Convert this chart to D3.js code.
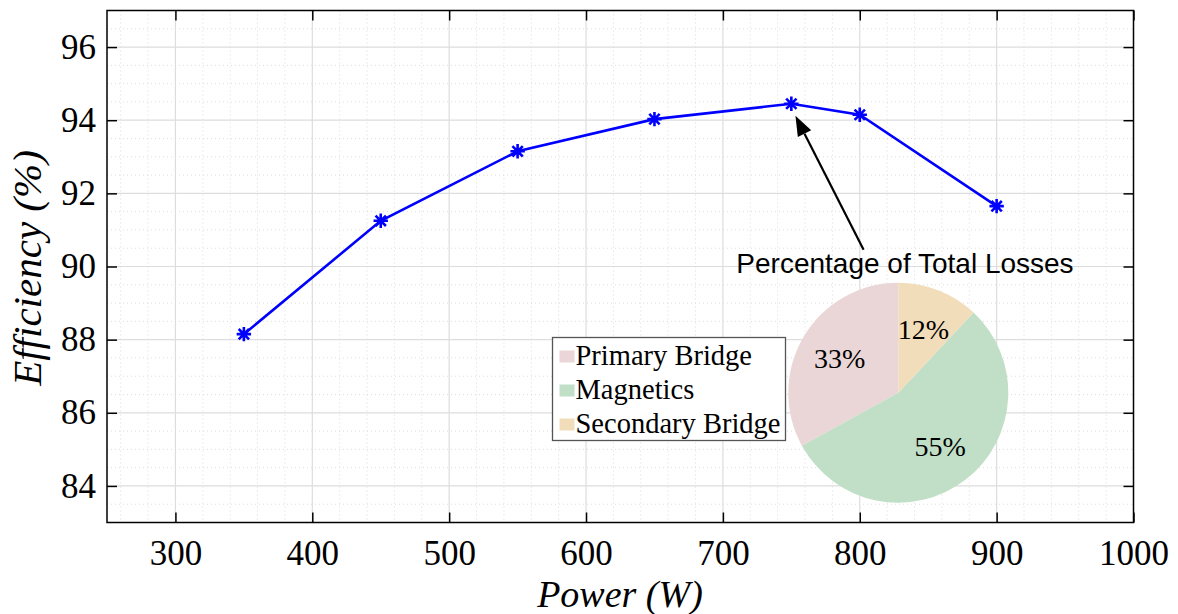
<!DOCTYPE html>
<html>
<head>
<meta charset="utf-8">
<script src="https://cdn.jsdelivr.net/npm/d3@7"></script>
<style>
  html, body { margin: 0; padding: 0; background: #fff; }
  svg { display: block; }
</style>
</head>
<body>
<svg id="chart" width="1178" height="614"></svg>
<script>
// Converter efficiency versus output power
const powerW = [350, 450, 550, 650, 750, 800, 900];
const efficiencyPct = [88.15, 91.25, 93.15, 94.03, 94.45, 94.15, 91.65];

// Tick labels
const xTicks = [300, 400, 500, 600, 700, 800, 900, 1000];
const yTicks = [84, 86, 88, 90, 92, 94, 96];

// Loss breakdown at the 750 W operating point
const lossNames = ["Primary Bridge", "Magnetics", "Secondary Bridge"];
const lossShares = [33, 55, 12];
const lossColors = ["#ead6d6", "#c1dfc7", "#f2ddbb"];

const W = 1178, H = 614;
const plot = { left: 107, right: 1133.5, top: 10.5, bottom: 522.5 };

const svg = d3.select("#chart");

const x = d3.scaleLinear().domain([250, 1000]).range([plot.left, plot.right]);
const y = d3.scaleLinear().domain([83, 97]).range([plot.bottom, plot.top]);

const serif = "'Liberation Serif', 'Times New Roman', serif";
const sans = "'Liberation Sans', Arial, sans-serif";

// Minor grid (dotted)
const minorX = d3.range(260, 1000, 20).filter(v => v % 100 !== 0);
const minorY = d3.range(83.5, 97, 0.5).filter(v => v % 2 !== 0);
const grid = svg.append("g");
grid.selectAll(".mx").data(minorX).join("line")
  .attr("x1", d => x(d)).attr("x2", d => x(d))
  .attr("y1", plot.top).attr("y2", plot.bottom)
  .attr("stroke", "#dcdcdc").attr("stroke-width", 1).attr("stroke-dasharray", "1,3");
grid.selectAll(".my").data(minorY).join("line")
  .attr("y1", d => y(d)).attr("y2", d => y(d))
  .attr("x1", plot.left).attr("x2", plot.right)
  .attr("stroke", "#dcdcdc").attr("stroke-width", 1).attr("stroke-dasharray", "1,3");

// Major grid (solid)
const majorX = d3.range(300, 1000, 100);
grid.selectAll(".Mx").data(majorX).join("line")
  .attr("x1", d => x(d)).attr("x2", d => x(d))
  .attr("y1", plot.top).attr("y2", plot.bottom)
  .attr("stroke", "#dddddd").attr("stroke-width", 1.2);
grid.selectAll(".My").data(yTicks).join("line")
  .attr("y1", d => y(d)).attr("y2", d => y(d))
  .attr("x1", plot.left).attr("x2", plot.right)
  .attr("stroke", "#dddddd").attr("stroke-width", 1.2);

// Axes on all four sides with inward ticks
function styleAxis(g) {
  g.select(".domain").remove();
  g.selectAll(".tick line").attr("stroke", "#000").attr("stroke-width", 1.5);
  g.selectAll("text").attr("font-family", serif).attr("font-size", 35).attr("fill", "#000");
}
svg.append("g").attr("transform", `translate(0,${plot.bottom})`)
  .call(d3.axisBottom(x).tickValues(xTicks).tickSize(-10).tickPadding(18).tickFormat(d3.format("d")))
  .call(styleAxis);
svg.append("g").attr("transform", `translate(0,${plot.top})`)
  .call(d3.axisTop(x).tickValues(xTicks).tickSize(-10).tickFormat(""))
  .call(styleAxis);
svg.append("g").attr("transform", `translate(${plot.left},0)`)
  .call(d3.axisLeft(y).tickValues(yTicks).tickSize(-10).tickPadding(11).tickFormat(d3.format("d")))
  .call(styleAxis);
svg.append("g").attr("transform", `translate(${plot.right},0)`)
  .call(d3.axisRight(y).tickValues(yTicks).tickSize(-10).tickFormat(""))
  .call(styleAxis);

// Plot box
svg.append("rect")
  .attr("x", plot.left).attr("y", plot.top)
  .attr("width", plot.right - plot.left).attr("height", plot.bottom - plot.top)
  .attr("fill", "none").attr("stroke", "#000").attr("stroke-width", 1.5);

// Efficiency curve
const pts = powerW.map((p, i) => [p, efficiencyPct[i]]);
svg.append("path")
  .datum(pts)
  .attr("d", d3.line().x(d => x(d[0])).y(d => y(d[1])))
  .attr("fill", "none").attr("stroke", "#0000ff").attr("stroke-width", 2.6);

// Asterisk markers
const s = 7.2, sd = s * 0.72;
const star = `M${-s},0L${s},0M0,${-s}L0,${s}M${-sd},${-sd}L${sd},${sd}M${-sd},${sd}L${sd},${-sd}`;
svg.append("g").selectAll("path").data(pts).join("path")
  .attr("transform", d => `translate(${x(d[0])},${y(d[1])})`)
  .attr("d", star)
  .attr("fill", "none").attr("stroke", "#0000ff").attr("stroke-width", 2.6);

// Annotation arrow pointing to the 750 W point
const arrowTail = [802.8, 90.46];
const arrowTip = [753, 94.12];
const tx = x(arrowTip[0]), ty = y(arrowTip[1]);
const sx = x(arrowTail[0]), sy = y(arrowTail[1]);
const ang = Math.atan2(ty - sy, tx - sx);
const headLen = 20, headHalf = 7.5;
const bx = tx - headLen * Math.cos(ang), by = ty - headLen * Math.sin(ang);
svg.append("line")
  .attr("x1", sx).attr("y1", sy).attr("x2", bx).attr("y2", by)
  .attr("stroke", "#000").attr("stroke-width", 2.2);
svg.append("path")
  .attr("d", `M${tx},${ty}L${bx - headHalf * Math.sin(ang)},${by + headHalf * Math.cos(ang)}L${bx + headHalf * Math.sin(ang)},${by - headHalf * Math.cos(ang)}Z`)
  .attr("fill", "#000");

// Pie title
svg.append("text")
  .attr("x", 905).attr("y", 273)
  .attr("text-anchor", "middle")
  .attr("font-family", sans).attr("font-size", 28)
  .attr("fill", "#000")
  .text("Percentage of Total Losses");

// Pie of loss shares, counterclockwise from the top
const pieCx = 898.3, pieCy = 392.7, pieR = 110;
const pie = d3.pie().sort(null).startAngle(0).endAngle(-2 * Math.PI);
const arcs = pie(lossShares);
const arc = d3.arc().innerRadius(0).outerRadius(pieR);
const labelArc = d3.arc().innerRadius(pieR * 0.62).outerRadius(pieR * 0.62);
const pieG = svg.append("g").attr("transform", `translate(${pieCx},${pieCy})`);
pieG.selectAll("path").data(arcs).join("path")
  .attr("d", arc)
  .attr("fill", (d, i) => lossColors[i]);
pieG.selectAll("text").data(arcs).join("text")
  .attr("transform", d => `translate(${labelArc.centroid(d)})`)
  .attr("text-anchor", "middle").attr("dy", "0.35em")
  .attr("font-family", serif).attr("font-size", 28).attr("fill", "#000")
  .text(d => d.data + "%");

// Legend
const lg = svg.append("g").attr("transform", "translate(552.5,337.5)");
lg.append("rect").attr("width", 233).attr("height", 103)
  .attr("fill", "#fff").attr("stroke", "#555").attr("stroke-width", 1.3);
const items = lg.selectAll("g").data(lossNames).join("g")
  .attr("transform", (d, i) => `translate(0,${i * 34})`);
items.append("rect")
  .attr("x", 7).attr("y", 13).attr("width", 15).attr("height", 12)
  .attr("fill", (d, i) => lossColors[i]);
items.append("text")
  .attr("x", 23).attr("y", 27)
  .attr("font-family", serif).attr("font-size", 28.5).attr("fill", "#000")
  .text(d => d);

// Axis titles
svg.append("text")
  .attr("x", 620).attr("y", 607)
  .attr("text-anchor", "middle")
  .attr("font-family", serif).attr("font-style", "italic").attr("font-size", 38)
  .attr("fill", "#000")
  .text("Power (W)");
svg.append("text")
  .attr("transform", "translate(41,268) rotate(-90)")
  .attr("text-anchor", "middle")
  .attr("font-family", serif).attr("font-style", "italic").attr("font-size", 41)
  .attr("fill", "#000")
  .text("Efficiency (%)");
</script>
</body>
</html>
